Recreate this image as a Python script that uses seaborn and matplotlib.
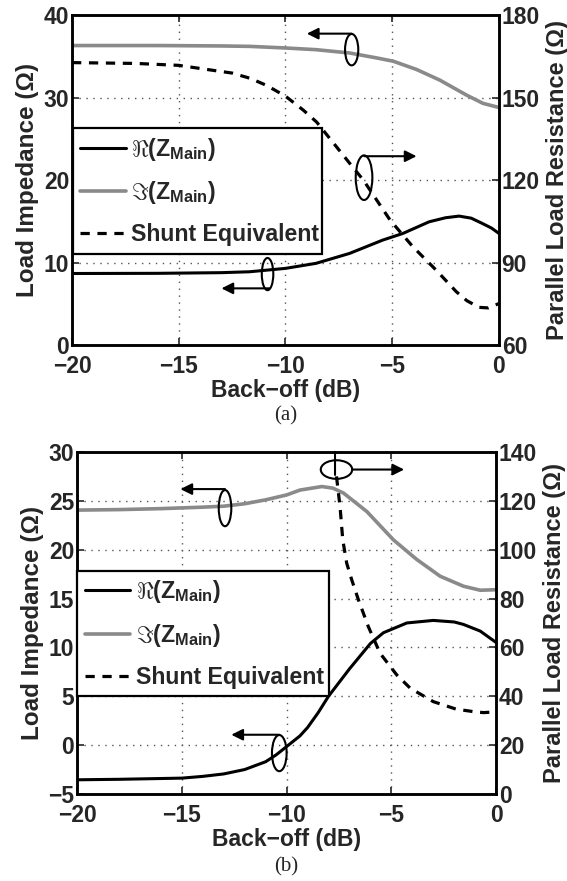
import matplotlib
matplotlib.use("Agg")
import matplotlib.pyplot as plt
from matplotlib.patches import Ellipse
from matplotlib.lines import Line2D
import seaborn as sns

# ---------------- data: panel (a) ----------------
a_re_x = [-20, -16, -13, -11.68, -10, -8.57, -7, -5.45, -4.5, -3.27, -2.5, -1.87, -1.3, -0.78, -0.35, 0]
a_re_y = [8.7, 8.72, 8.8, 8.91, 9.32, 9.93, 11.13, 12.74, 13.55, 14.96, 15.45, 15.65, 15.4, 14.76, 14.2, 13.55]

a_im_x = [-20, -16, -13, -11.68, -9.97, -8.57, -7.0, -5.73, -4.95, -3.86, -2.76, -1.52, -0.75, 0]
a_im_y = [36.3, 36.3, 36.25, 36.2, 36.0, 35.8, 35.4, 34.8, 34.4, 33.4, 32.1, 30.3, 29.3, 28.8]

a_sh_x = [-20, -17, -15, -13.4, -12.5, -11.66, -10.88, -10, -9.16, -8.54, -6.98, -6.35, -5.1, -4.03, -2.94, -2.0, -1.5, -0.93, -0.5, -0.15, 0]
a_sh_y = [162.7, 162.4, 161.7, 159.9, 158.9, 157.0, 154.4, 150.5, 145.4, 141.1, 126.0, 120.0, 105.5, 95.8, 87.3, 79.5, 76.2, 73.8, 73.6, 74.7, 75.2]

# ---------------- data: panel (b) ----------------
b_re_x = [-20, -18, -16, -15, -14, -13, -12, -11, -10.5, -10, -9.36, -9, -8.5, -8, -7, -6, -5.38, -4.26, -3, -2, -1.56, -0.76, 0]
b_re_y = [-3.55, -3.5, -3.42, -3.38, -3.2, -2.95, -2.5, -1.7, -1.0, -0.15, 0.95, 1.8, 3.3, 5.0, 7.8, 10.4, 11.5, 12.5, 12.76, 12.6, 12.35, 11.67, 10.5]

b_im_x = [-20, -18, -16, -14, -13, -12, -11, -10, -9.36, -8.32, -7.8, -7.29, -6.17, -4.9, -3.79, -2.67, -1.56, -0.76, 0]
b_im_y = [24.05, 24.1, 24.2, 24.35, 24.45, 24.7, 25.1, 25.6, 26.1, 26.46, 26.3, 25.8, 23.9, 21.0, 19.0, 17.28, 16.26, 15.85, 15.9]

b_sh_x = [-7.62, -7.45, -7.32, -7.13, -6.89, -6.57, -6.1, -5.54, -4.74, -4.1, -3.0, -1.9, -1.0, -0.6, 0]
b_sh_y = [130.0, 117.6, 104.0, 94.4, 87.6, 79.4, 68.5, 57.6, 48.7, 43.3, 37.8, 34.7, 33.6, 33.3, 33.6]

x_ticks = [-20, -15, -10, -5, 0]
a_left_ticks = [0, 10, 20, 30, 40]
a_right_ticks = [60, 90, 120, 150, 180]
b_left_ticks = [-5, 0, 5, 10, 15, 20, 25, 30]
b_right_ticks = [0, 20, 40, 60, 80, 100, 120, 140]

labels = [r'$\Re(\mathbf{Z}_{\mathbf{Main}})$', r'$\Im(\mathbf{Z}_{\mathbf{Main}})$', 'Shunt Equivalent']

# ---------------- style ----------------
sns.set_style("white")
plt.rcParams['font.family'] = ['Liberation Sans', 'DejaVu Sans']
plt.rcParams['font.weight'] = 'bold'
plt.rcParams['axes.labelweight'] = 'bold'
plt.rcParams['mathtext.fontset'] = 'custom'
plt.rcParams['mathtext.rm'] = 'Liberation Sans:bold'
plt.rcParams['mathtext.bf'] = 'Liberation Sans:bold'
plt.rcParams['mathtext.it'] = 'Liberation Sans:bold:italic'

TICK_FS = 16.5
XLAB_FS = 16.5
YLAB_FS = 17.5
Y2LAB_FS = 17
LEG_FS = 16.7
GRAY = '#8a8a8a'
DASH = (2.9, 2.4)

fig = plt.figure(figsize=(5.67, 8.81), dpi=100)
ax_a = fig.add_axes([0.127, 0.608, 0.753, 0.375])
ax_b = fig.add_axes([0.136, 0.0988, 0.739, 0.3882])


def style_axes(ax, ax2, ylim, yticks, y2lim, y2ticks):
    ax.set_xlim(-20, 0)
    ax.set_ylim(*ylim)
    ax.set_xticks(x_ticks)
    ax.set_yticks(yticks)
    ax2.set_ylim(*y2lim)
    ax2.set_yticks(y2ticks)
    ax.grid(True, color='#555555', linestyle=(0, (1, 4)), linewidth=1.0)
    ax2.grid(False)
    for a in (ax, ax2):
        for s in a.spines.values():
            s.set_linewidth(1.8)
            s.set_color('black')
    ax.tick_params(axis='y', direction='in', length=5, width=1.2, labelsize=TICK_FS, pad=2,
                   left=True, right=False)
    ax.tick_params(axis='x', direction='in', length=5, width=1.2, labelsize=TICK_FS, pad=7,
                   top=True, bottom=True)
    ax2.tick_params(axis='y', direction='in', length=5, width=1.2, labelsize=TICK_FS, pad=2,
                    left=False, right=True)
    for lab in ax.get_xticklabels() + ax.get_yticklabels() + ax2.get_yticklabels():
        lab.set_fontweight('bold')
    ax.set_xlabel('Back\u2212off (dB)', fontsize=XLAB_FS, fontweight='bold', labelpad=1)
    ax.set_ylabel('Load Impedance (\u03a9)', fontsize=YLAB_FS, fontweight='bold', labelpad=3)
    ax2.set_ylabel('Parallel Load Resistance (\u03a9)', fontsize=Y2LAB_FS, fontweight='bold',
                   labelpad=4)


def draw_curves(ax, ax2, rx, ry, ix, iy, sx, sy):
    sns.lineplot(x=rx, y=ry, ax=ax, color='black', linewidth=2.2, estimator=None, sort=False)
    sns.lineplot(x=ix, y=iy, ax=ax, color=GRAY, linewidth=2.6, estimator=None, sort=False)
    sns.lineplot(x=sx, y=sy, ax=ax2, color='black', linewidth=2.3, estimator=None, sort=False)
    ax2.get_lines()[-1].set_dashes(DASH)


def pointer(ax, ax2, center, w, h, start, tip):
    ax2.add_patch(Ellipse(center, w, h, fill=False, edgecolor='black', linewidth=1.5,
                          transform=ax.transData, zorder=5))
    ax2.annotate('', xy=tip, xytext=start, xycoords=ax.transData, textcoords=ax.transData,
                 arrowprops=dict(arrowstyle='-|>', color='black', lw=1.5, mutation_scale=17,
                                 shrinkA=0, shrinkB=0), zorder=5)


def add_legend(ax2, bbox):
    handles = [Line2D([], [], color='black', lw=2.2),
               Line2D([], [], color=GRAY, lw=2.6),
               Line2D([], [], color='black', lw=2.3, dashes=DASH)]
    leg = ax2.legend(handles, labels, loc='upper left', bbox_to_anchor=bbox, mode='expand',
                     borderaxespad=0, frameon=True, fancybox=False, framealpha=1,
                     edgecolor='black', handlelength=1.95, handletextpad=0.25,
                     labelspacing=0.72, borderpad=0.32,
                     prop={'weight': 'bold', 'size': LEG_FS})
    leg.get_frame().set_linewidth(1.6)
    leg.set_zorder(10)
    return leg


# ---------------- panel (a) ----------------
ax_a2 = ax_a.twinx()
draw_curves(ax_a, ax_a2, a_re_x, a_re_y, a_im_x, a_im_y, a_sh_x, a_sh_y)
style_axes(ax_a, ax_a2, (0, 40), a_left_ticks, (60, 180), a_right_ticks)
pointer(ax_a, ax_a2, (-6.9, 35.8), 0.62, 3.8, (-6.9, 37.74), (-9.0, 37.74))
pointer(ax_a, ax_a2, (-6.32, 20.3), 0.78, 5.4, (-6.3, 22.9), (-3.86, 22.9))
pointer(ax_a, ax_a2, (-10.84, 8.63), 0.54, 3.9, (-10.75, 6.9), (-13.0, 6.9))
add_legend(ax_a2, (0.002, 0.276, 0.583, 0.381))
fig.text(0.503, 0.5285, '(a)', ha='center', va='center', fontsize=15,
         family='Liberation Serif', fontweight='normal')

# ---------------- panel (b) ----------------
ax_b2 = ax_b.twinx()
draw_curves(ax_b, ax_b2, b_re_x, b_re_y, b_im_x, b_im_y, b_sh_x, b_sh_y)
style_axes(ax_b, ax_b2, (-5, 30), b_left_ticks, (0, 140), b_right_ticks)
pointer(ax_b, ax_b2, (-12.94, 24.25), 0.6, 3.7, (-12.94, 26.2), (-15.07, 26.2))
pointer(ax_b, ax_b2, (-7.62, 28.2), 1.5, 1.9, (-6.87, 28.2), (-4.39, 28.2))
ax_b2.annotate('', xy=(-7.69, 27.65), xytext=(-7.69, 30), xycoords=ax_b.transData,
               textcoords=ax_b.transData,
               arrowprops=dict(arrowstyle='-', color='black', lw=1.5, shrinkA=0, shrinkB=0))
pointer(ax_b, ax_b2, (-10.35, -0.82), 0.7, 3.7, (-10.35, 1.06), (-12.64, 1.06))
add_legend(ax_b2, (0.0, 0.284, 0.601, 0.368))
fig.text(0.505, 0.0155, '(b)', ha='center', va='center', fontsize=15,
         family='Liberation Serif', fontweight='normal')

fig.savefig('out.png', dpi=100)
